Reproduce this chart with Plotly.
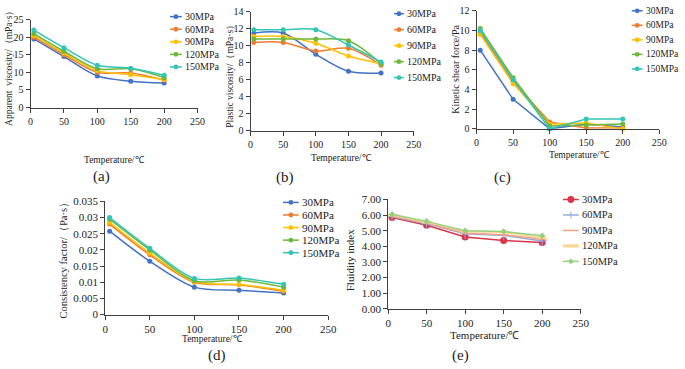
import plotly.graph_objects as go

W, H = 685, 369

# ---------------- data ----------------
temperature = [5, 50, 100, 150, 200]
pressures = ["30MPa", "60MPa", "90MPa", "120MPa", "150MPa"]

# (a) apparent viscosity, mPa·s  (rows follow `pressures`)
apparent_viscosity = [
    [19.5, 14.5, 9.0, 7.5, 7.0],
    [20.0, 15.0, 10.0, 9.8, 7.8],
    [20.5, 15.5, 10.5, 9.3, 8.0],
    [21.0, 16.0, 11.0, 11.0, 8.5],
    [22.0, 17.0, 12.0, 11.2, 9.2],
]
# (b) plastic viscosity, mPa·s
plastic_viscosity = [
    [11.5, 11.5, 9.0, 7.0, 6.8],
    [10.4, 10.4, 9.4, 9.7, 7.7],
    [11.1, 11.1, 10.3, 8.8, 7.9],
    [10.8, 10.8, 10.8, 10.6, 7.9],
    [11.9, 11.9, 11.9, 10.1, 8.1],
]
# (c) kinetic shear force, Pa
kinetic_shear = [
    [8.0, 3.0, 0.0, 0.5, 0.2],
    [9.8, 4.8, 0.7, 0.1, 0.1],
    [9.6, 4.6, 0.5, 0.6, 0.0],
    [10.2, 5.2, 0.3, 0.4, 0.5],
    [10.0, 5.0, 0.0, 1.0, 1.0],
]
# (d) consistency factor, Pa·s
consistency = [
    [0.0258, 0.0165, 0.0085, 0.0075, 0.0067],
    [0.0280, 0.0185, 0.0100, 0.0092, 0.0072],
    [0.0285, 0.0190, 0.0102, 0.0093, 0.0075],
    [0.0295, 0.0200, 0.0105, 0.0107, 0.0085],
    [0.0300, 0.0205, 0.0112, 0.0113, 0.0094],
]
# (e) fluidity index
fluidity = [
    [5.85, 5.35, 4.60, 4.38, 4.25],
    [5.90, 5.45, 4.80, 4.70, 4.35],
    [5.95, 5.50, 4.85, 4.75, 4.45],
    [6.00, 5.55, 4.95, 4.90, 4.55],
    [6.05, 5.60, 5.00, 4.95, 4.68],
]

x_ticks = [0, 50, 100, 150, 200, 250]
ticks_a = [0, 5, 10, 15, 20, 25]
ticks_b = [0, 2, 4, 6, 8, 10, 12, 14]
ticks_c = [0, 2, 4, 6, 8, 10, 12]
ticks_d = [0, 0.005, 0.01, 0.015, 0.02, 0.025, 0.03, 0.035]
ticks_d_text = ["0", "0.005", "0.01", "0.015", "0.02", "0.025", "0.03", "0.035"]
ticks_e = [0, 1, 2, 3, 4, 5, 6, 7]

# ---------------- styling ----------------
FONT = "Liberation Serif, Times New Roman, serif"
AX = "#404040"
TXT = "#222222"
colors_main = ["#4472C4", "#ED7D31", "#FFC000", "#6CB83A", "#33C4B4"]
colors_e = ["#D7374A", "#93ABDC", "#F5A283", "#FFD38A", "#95D07E"]
markers_e = [
    dict(symbol="circle", size=7),
    dict(symbol="cross-thin", size=7, line=dict(width=1, color=colors_e[1])),
    dict(symbol="line-ew", size=6, line=dict(width=1, color=colors_e[2])),
    dict(symbol="line-ew", size=7, line=dict(width=2, color=colors_e[3])),
    dict(symbol="diamond", size=5),
]


def px_x(p):
    return p / W


def px_y(p):
    return 1 - p / H


# panel pixel boxes: (x0, x1, y_bottom, y_top)
panels = {
    "a": (28, 198, 105, 14),
    "b": (252, 418, 129, 6),
    "c": (482, 668, 127, 5),
    "d": (104, 331, 319, 202),
    "e": (392, 588, 313, 200),
}
tick_size = {"a": 10, "b": 10, "c": 10, "d": 11, "e": 11}

specs = [
    ("a", apparent_viscosity, colors_main, True, ticks_a, None, [0, 25]),
    ("b", plastic_viscosity, colors_main, True, ticks_b, None, [0, 14]),
    ("c", kinetic_shear, colors_main, False, ticks_c, None, [0, 12]),
    ("d", consistency, colors_main, True, ticks_d, ticks_d_text, [0, 0.035]),
    ("e", fluidity, colors_e, False, ticks_e, None, [0, 7]),
]

fig = go.Figure()
layout_axes = {}
for i, (key, data, cols, smooth, yt, ytt, yr) in enumerate(specs):
    n = i + 1
    xa = "x" if n == 1 else f"x{n}"
    ya = "y" if n == 1 else f"y{n}"
    for j, name in enumerate(pressures):
        if key == "e":
            mk = dict(color=cols[j], **markers_e[j])
        else:
            mk = dict(color=cols[j], symbol="circle", size=5)
        fig.add_trace(go.Scatter(
            x=temperature, y=data[j], name=name, mode="lines+markers",
            line=dict(color=cols[j], width=1.5,
                      shape="spline" if smooth else "linear", smoothing=0.9),
            marker=mk, xaxis=xa, yaxis=ya, cliponaxis=False, showlegend=False,
        ))
    x0, x1, yb, ytp = panels[key]
    common = dict(showgrid=False, zeroline=False, showline=True, linecolor=AX,
                  linewidth=1, ticks="outside", ticklen=4, tickcolor=AX,
                  tickfont=dict(family=FONT, size=tick_size[key], color=TXT))
    layout_axes["xaxis" if n == 1 else f"xaxis{n}"] = dict(
        domain=[px_x(x0), px_x(x1)], range=[0, 250], tickvals=x_ticks,
        anchor=ya, **common)
    yd = dict(domain=[px_y(yb), px_y(ytp)], range=yr, tickvals=yt,
              anchor=xa, **common)
    if ytt is not None:
        yd["ticktext"] = ytt
    if key == "e":
        yd["tickformat"] = ".2f"
    layout_axes["yaxis" if n == 1 else f"yaxis{n}"] = yd

ann = []
shapes = []


def add_text(text, x, y, size, angle=0, xanchor="center"):
    ann.append(dict(text=text, x=px_x(x), y=px_y(y), xref="paper", yref="paper",
                    showarrow=False, textangle=angle, xanchor=xanchor,
                    yanchor="middle",
                    font=dict(family=FONT, size=size, color=TXT)))


# ---------------- legends (drawn as layout decorations) ----------------
# (line start px, line end px, text x px, first row y px, row step px, font)
legend_boxes = {
    "a": (170, 182, 183, 11, 13, 10),
    "b": (398, 408, 409, 8, 16.5, 10),
    "c": (640, 651, 652, 5, 15, 9.5),
    "d": (285, 301, 302, 203, 13, 11),
    "e": (570, 586, 587, 200, 16, 10.5),
}
for key, (lx0, lx1, tx, y0, dy, fs) in legend_boxes.items():
    cols = colors_e if key == "e" else colors_main
    for j, name in enumerate(pressures):
        yy = y0 + j * dy
        cx = (lx0 + lx1) / 2
        lw = 3 if (key == "e" and j == 3) else 1.5
        shapes.append(dict(type="line", xref="paper", yref="paper",
                           x0=px_x(lx0), x1=px_x(lx1), y0=px_y(yy), y1=px_y(yy),
                           line=dict(color=cols[j], width=lw)))
        if key != "e" or j == 0:
            r = 3.5 if key == "e" else 2.5
            shapes.append(dict(type="circle", xref="paper", yref="paper",
                               x0=px_x(cx - r), x1=px_x(cx + r),
                               y0=px_y(yy + r), y1=px_y(yy - r),
                               fillcolor=cols[j], line=dict(width=0)))
        elif j == 1:
            shapes.append(dict(type="line", xref="paper", yref="paper",
                               x0=px_x(cx), x1=px_x(cx),
                               y0=px_y(yy + 3.5), y1=px_y(yy - 3.5),
                               line=dict(color=cols[j], width=1)))
        elif j == 4:
            r = 3
            path = (f"M {px_x(cx - r)} {px_y(yy)} L {px_x(cx)} {px_y(yy - r)} "
                    f"L {px_x(cx + r)} {px_y(yy)} L {px_x(cx)} {px_y(yy + r)} Z")
            shapes.append(dict(type="path", xref="paper", yref="paper",
                               path=path, fillcolor=cols[j], line=dict(width=0)))
        add_text(name, tx, yy, fs, xanchor="left")

# ---------------- titles / panel labels ----------------
xtitles = [(113, 159, 9.5), (345, 157, 9.5), (587, 154, 9.5),
           (213, 344, 9.5), (490, 340, 11)]
for x, y, s in xtitles:
    add_text("Temperature/℃", x, y, s)

labels = [("(a)", 100, 176), ("(b)", 287, 177), ("(c)", 508, 177),
          ("(d)", 218, 361), ("(e)", 466, 361)]
for t, x, y in labels:
    add_text(t, x, y, 15)

ytitles = [("Apparent  viscosity/（mPa·s）", 6, 62, 9.5),
           ("Plastic viscosity/（mPa·s）", 231, 70, 9.5),
           ("Kinetic shear force/Pa", 461, 65, 10),
           ("Consistency factor/（Pa·s）", 62, 260, 10.5),
           ("Fluidity index", 354, 262, 11)]
for t, x, y, s in ytitles:
    add_text(t, x, y, s, angle=-90)

fig.update_layout(
    width=W, height=H, margin=dict(l=0, r=0, t=0, b=0),
    paper_bgcolor="white", plot_bgcolor="white", showlegend=False,
    annotations=ann, shapes=shapes, **layout_axes,
)

fig.write_html(
    "out.html",
    config={"displayModeBar": False, "staticPlot": True},
    post_script="document.body.style.margin='0';document.body.style.overflow='hidden';",
)
